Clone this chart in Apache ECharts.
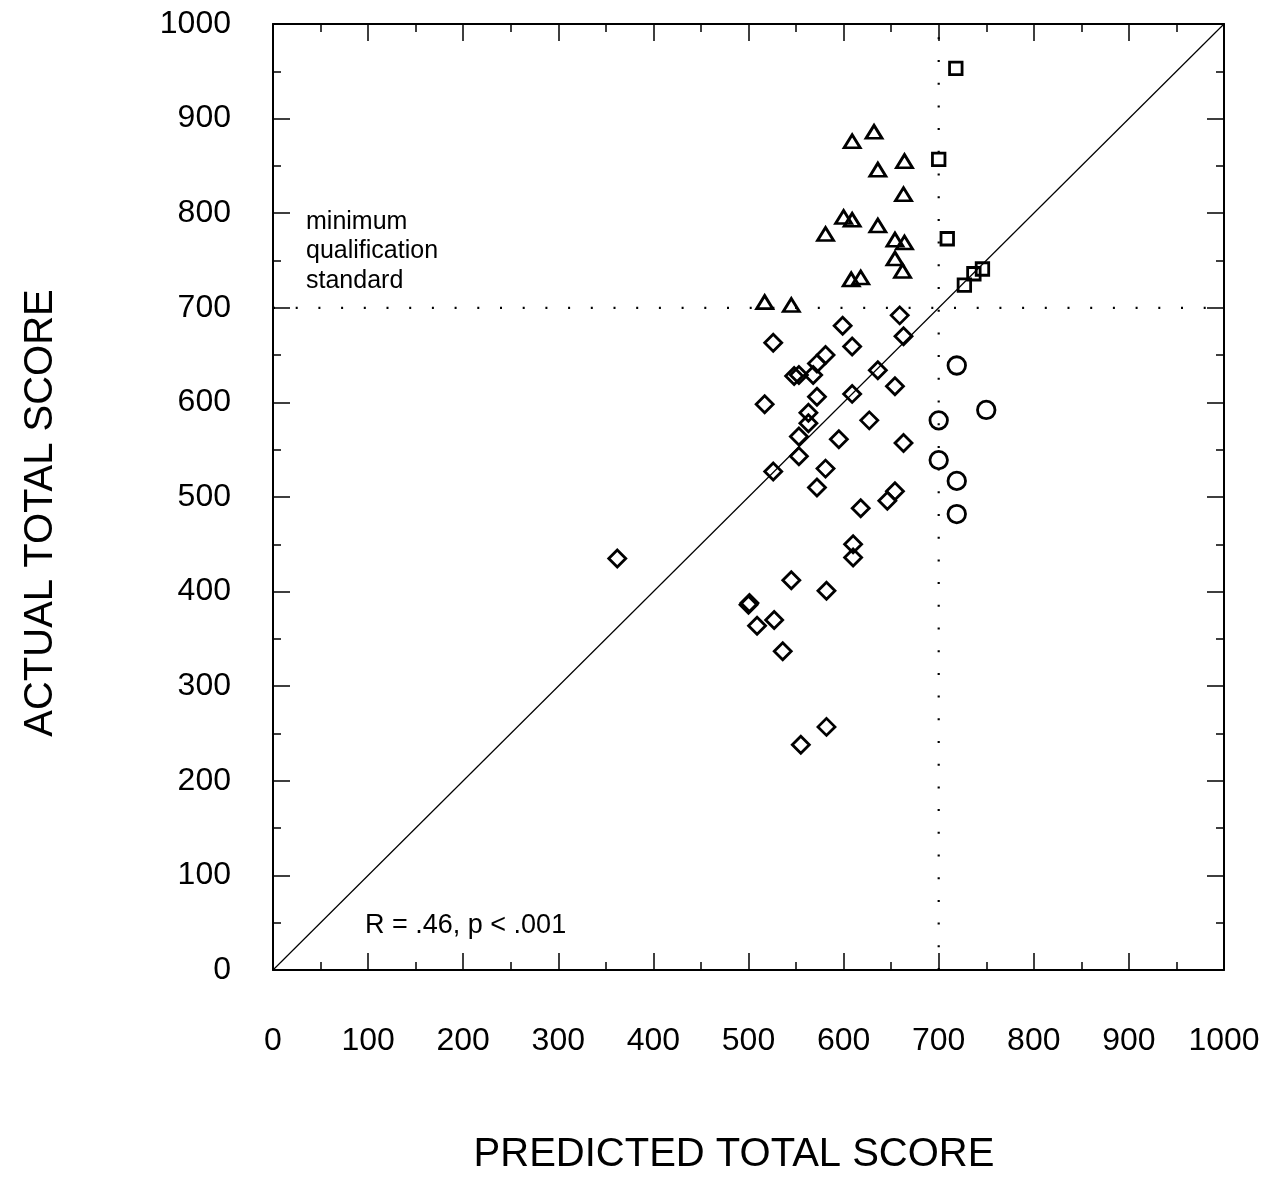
<!DOCTYPE html>
<html>
<head>
<meta charset="utf-8">
<script src="https://cdn.jsdelivr.net/npm/echarts@6/dist/echarts.min.js"></script>
<style>
html,body{margin:0;padding:0;background:#fff;}
#chart{width:1266px;height:1203px;}
</style>
</head>
<body>
<div id="chart"></div>
<script>
// Axis ticks
const xTicks = [0, 100, 200, 300, 400, 500, 600, 700, 800, 900, 1000];
const yTicks = [0, 100, 200, 300, 400, 500, 600, 700, 800, 900, 1000];

// Groups of examinees: [predicted, actual]
const triangles = [[632,886],[609,876],[664,855],[636,846],[663,820],[600,796],[609,793],[581,778],[636,787],[654,772],[664,769],[654,752],[662,739],[608,730],[618,732],[517,706],[545,703]];
const squares = [[718,953],[700,857],[709,773],[746,741],[737,736],[727,724]];
const circles = [[719,639],[750,592],[700,581],[700,539],[719,517],[719,482]];
const diamonds = [[659,692],[599,681],[526,663],[663,670],[609,659],[581,650],[572,641],[548,628],[553,629],[568,629],[636,634],[654,617],[572,606],[517,598],[609,609],[563,589],[563,578],[627,581],[553,564],[595,561],[663,557],[553,543],[526,527],[581,530],[572,510],[654,506],[646,496],[618,488],[610,450],[610,436],[545,412],[582,401],[500,386],[501,388],[527,370],[509,364],[536,337],[582,257],[555,238],[362,435]];

// Reference lines
const identityLine = [[0,0],[1000,1000]];
const standardH = [[0,700],[1000,700]];
const standardV = [[700,0],[700,1000]];

const xTitle = 'PREDICTED TOTAL SCORE';
const yTitle = 'ACTUAL TOTAL SCORE';
const noteLines = ['minimum', 'qualification', 'standard'];
const statText = 'R = .46, p < .001';

const FONT = 'Liberation Sans, Arial, Helvetica, sans-serif';
const chart = echarts.init(document.getElementById('chart'), null, {renderer:'canvas'});

function axisCommon(showLabels, pos) {
  return {
    type: 'value', min: 0, max: 1000, interval: 100, position: pos,
    axisLine: {show: true, onZero: false, lineStyle: {color: '#000', width: 2}},
    axisTick: {show: true, inside: true, length: 17, lineStyle: {color: '#000', width: 1.5}},
    minorTick: {show: true, splitNumber: 2, length: 8, lineStyle: {color: '#000', width: 1.5}},
    splitLine: {show: false},
    minorSplitLine: {show: false},
    axisLabel: {show: showLabels, color: '#000', fontSize: 32, fontFamily: FONT,
      formatter: function(v){ return xTicks.indexOf(v) >= 0 ? String(v) : ''; }}
  };
}

const markerStyle = {color: 'rgba(0,0,0,0)', borderColor: '#000', borderWidth: 2.8, opacity: 1};

const xBottom = axisCommon(true, 'bottom'); xBottom.axisLabel.margin = 55;
const xTop = axisCommon(false, 'top');
const yLeft = axisCommon(true, 'left'); yLeft.axisLabel.margin = 42;
yLeft.axisLabel.formatter = function(v){ return yTicks.indexOf(v) >= 0 ? String(v) : ''; };
const yRight = axisCommon(false, 'right');

const noteGraphics = noteLines.map(function(t, i){
  return {type: 'text', x: 306, y: 222 + i * 29.5, silent: true,
    style: {text: t, fill: '#000', fontSize: 25, fontFamily: FONT, align: 'left', verticalAlign: 'middle'}};
});

chart.setOption({
  animation: false,
  backgroundColor: '#fff',
  grid: {left: 273, top: 24, width: 951, height: 946, containLabel: false, outerBoundsMode: 'none'},
  xAxis: [xBottom, xTop],
  yAxis: [yLeft, yRight],
  graphic: noteGraphics.concat([
    {type: 'text', x: 365, y: 926, silent: true,
      style: {text: statText, fill: '#000', fontSize: 27, fontFamily: FONT, align: 'left', verticalAlign: 'middle'}},
    {type: 'text', x: 734, y: 1155, silent: true,
      style: {text: xTitle, fill: '#000', fontSize: 40, fontFamily: FONT, align: 'center', verticalAlign: 'middle'}},
    {type: 'text', x: 41, y: 513, rotation: Math.PI / 2, silent: true,
      style: {text: yTitle, fill: '#000', fontSize: 40, fontFamily: FONT, align: 'center', verticalAlign: 'middle'}}
  ]),
  series: [
    {type: 'line', data: identityLine, symbol: 'none', silent: true, z: 1,
      lineStyle: {color: '#000', width: 1.2}},
    {type: 'line', data: standardH, symbol: 'none', silent: true, z: 1,
      lineStyle: {color: '#000', width: 2.2, type: [2, 20.7]}},
    {type: 'line', data: standardV, symbol: 'none', silent: true, z: 1,
      lineStyle: {color: '#000', width: 2.2, type: [2, 20.7]}},
    {type: 'scatter', data: diamonds, symbol: 'diamond', symbolSize: 17, silent: true, z: 3, itemStyle: markerStyle},
    {type: 'scatter', data: triangles, symbol: 'triangle', symbolSize: [16, 13], silent: true, z: 3, itemStyle: markerStyle},
    {type: 'scatter', data: squares, symbol: 'rect', symbolSize: 12.5, silent: true, z: 3, itemStyle: markerStyle},
    {type: 'scatter', data: circles, symbol: 'circle', symbolSize: 17.5, silent: true, z: 3, itemStyle: markerStyle}
  ]
});
</script>
</body>
</html>
